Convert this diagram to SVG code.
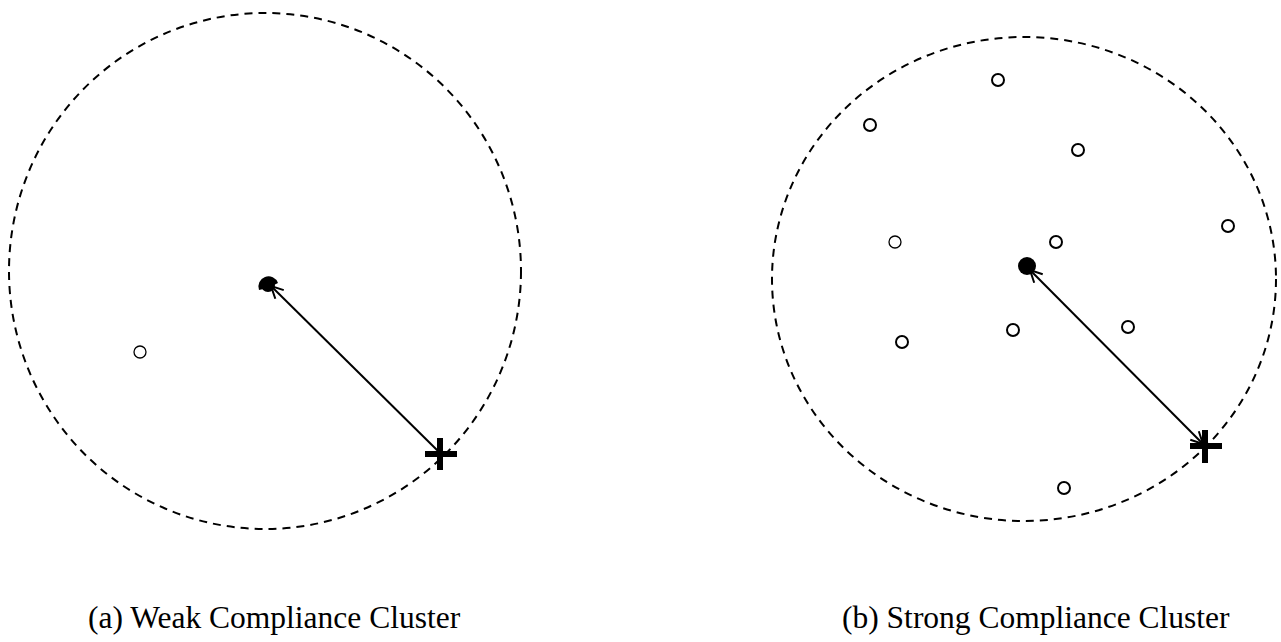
<svg xmlns="http://www.w3.org/2000/svg" width="1281" height="642" viewBox="0 0 1281 642">
<style>
.bound{fill:none;stroke:#000;stroke-width:2;stroke-dasharray:8,6}
.pt{fill:#fff;stroke:#000;stroke-width:2}
.pt1{fill:#fff;stroke:#000;stroke-width:1.3}
.cross{stroke:#000;stroke-width:6;fill:none}
.link{stroke:#000;stroke-width:2;fill:none}
.lbl{font-family:"Liberation Serif","Times New Roman",serif;font-size:31.5px;fill:#000}
</style>
<defs>
<marker id="open" viewBox="0 0 14 14" refX="13" refY="7" markerWidth="14" markerHeight="14" markerUnits="userSpaceOnUse" orient="auto-start-reverse">
<path d="M1,1 L13,7 L1,13" fill="none" stroke="#000" stroke-width="2"/>
</marker>
</defs>
<g id="panel-a">
<ellipse class="bound" cx="265" cy="271" rx="256" ry="258"/>
<circle class="pt1" cx="140" cy="352" r="6"/>
<path d="M259,290 A10,10 0 0 1 278,283 L268,288 Z" fill="#000"/>
<circle cx="268" cy="285" r="7" fill="#000"/>
<g id="cross-a"><line class="cross" x1="425" y1="454" x2="457" y2="454"/><line class="cross" x1="440" y1="438" x2="440" y2="470"/></g>
</g>
<g id="panel-b">
<ellipse class="bound" cx="1024" cy="279" rx="252" ry="242"/>
<circle class="pt" cx="870" cy="125" r="6"/>
<circle class="pt" cx="998" cy="80" r="6"/>
<circle class="pt" cx="1078" cy="150" r="6"/>
<circle class="pt1" cx="895" cy="242" r="6"/>
<circle class="pt" cx="1056" cy="242" r="6"/>
<circle class="pt" cx="1228" cy="226" r="6"/>
<circle class="pt" cx="902" cy="342" r="6"/>
<circle class="pt" cx="1013" cy="330" r="6"/>
<circle class="pt" cx="1128" cy="327" r="6"/>
<circle class="pt" cx="1064" cy="488" r="6"/>
<circle cx="1027" cy="266" r="9" fill="#000"/>
<g id="cross-b"><line class="cross" x1="1190" y1="446" x2="1222" y2="446"/><line class="cross" x1="1205" y1="430" x2="1205" y2="463"/></g>
</g>
<g id="connectors">
<line class="link" x1="271" y1="286" x2="438" y2="451" marker-start="url(#open)"/>
<line class="link" x1="1030" y1="270" x2="1203" y2="444" marker-start="url(#open)" marker-end="url(#open)"/>
</g>
<text class="lbl" x="88" y="628">(a) Weak Compliance Cluster</text>
<text class="lbl" x="842" y="628">(b) Strong Compliance Cluster</text>
</svg>
